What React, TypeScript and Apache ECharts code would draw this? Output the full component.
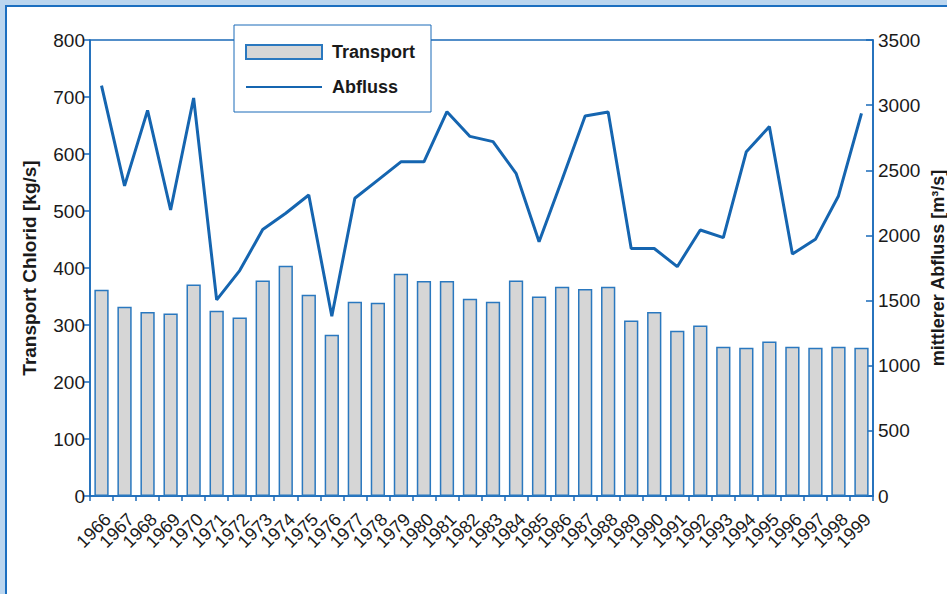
import React, { useEffect, useRef } from "react";
import * as echarts from "echarts";

const years = ["1966","1967","1968","1969","1970","1971","1972","1973","1974","1975","1976","1977","1978","1979","1980","1981","1982","1983","1984","1985","1986","1987","1988","1989","1990","1991","1992","1993","1994","1995","1996","1997","1998","1999"];
const transport = [362, 332, 323, 320, 371, 325, 313, 378, 404, 353, 283, 341, 339, 390, 377, 377, 346, 341, 378, 350, 367, 363, 367, 308, 323, 290, 299, 262, 260, 271, 262, 260, 262, 260];
const abfluss = [3150, 2380, 2960, 2195, 3055, 1505, 1730, 2045, 2170, 2310, 1380, 2285, 2425, 2565, 2565, 2950, 2760, 2720, 2477, 1952, 2430, 2917, 2947, 1900, 1900, 1760, 2042, 1983, 2643, 2835, 1857, 1970, 2303, 2937];

const BLUE = "#1a6ab8";
const TEXT = "#1a1a1a";
const FONT = "'Liberation Sans', Arial, sans-serif";

export default function App() {
  const ref = useRef<HTMLDivElement>(null);
  useEffect(() => {
    if (!ref.current) return;
    const chart = echarts.init(ref.current, undefined, { renderer: "svg" });
    chart.setOption({
      animation: false,
      textStyle: { fontFamily: FONT, color: TEXT },
      grid: {
        left: 90, right: 74, top: 40, bottom: 98,
        outerBoundsMode: "none",
        containLabel: false,
        show: true, borderColor: BLUE, borderWidth: 1.5, backgroundColor: "transparent",
      },
      legend: {
        left: 234,
        top: 25,
        orient: "vertical",
        backgroundColor: "#ffffff",
        borderColor: BLUE,
        borderWidth: 1,
        padding: [18, 16, 16, 11],
        itemWidth: 76,
        itemHeight: 14,
        itemGap: 17,
        textStyle: { fontFamily: FONT, fontWeight: "bold", fontSize: 18, color: TEXT, padding: [0, 0, 0, 5] },
        data: [
          { name: "Transport", icon: "rect" },
          { name: "Abfluss", itemStyle: { opacity: 0, color: "transparent", borderWidth: 0 } },
        ],
      },
      xAxis: {
        type: "category",
        data: years,
        boundaryGap: true,
        axisLine: { lineStyle: { color: BLUE, width: 1.5 } },
        axisTick: { show: true, alignWithLabel: false, length: 5, lineStyle: { color: BLUE, width: 1.5 } },
        axisLabel: { rotate: 45, interval: 0, fontSize: 18, color: TEXT, fontFamily: FONT, margin: 14, verticalAlign: "top" },
      },
      yAxis: [
        {
          type: "value",
          min: 0,
          max: 800,
          interval: 100,
          name: "Transport Chlorid [kg/s]",
          nameLocation: "middle",
          nameGap: 51,
          nameTextStyle: { fontFamily: FONT, fontWeight: "bold", fontSize: 19, color: TEXT },
          axisLine: { show: true, lineStyle: { color: BLUE, width: 1.5 } },
          axisTick: { show: true, length: 6, lineStyle: { color: BLUE, width: 1.5 } },
          axisLabel: { fontSize: 19, color: TEXT, fontFamily: FONT, margin: 5 },
          splitLine: { show: false },
        },
        {
          type: "value",
          min: 0,
          max: 3500,
          interval: 500,
          position: "right",
          name: "mittlerer Abfluss [m³/s]",
          nameLocation: "middle",
          nameGap: 56,
          nameMoveOverlap: false,
          nameTextStyle: { fontFamily: FONT, fontWeight: "bold", fontSize: 18, color: TEXT },
          axisLine: { show: true, lineStyle: { color: BLUE, width: 1.5 } },
          axisTick: { show: true, inside: true, length: 7, lineStyle: { color: BLUE, width: 1.5 } },
          axisLabel: { fontSize: 19, color: TEXT, fontFamily: FONT, margin: 5, formatter: (v: number) => String(v) },
          splitLine: { show: false },
        },
      ],
      series: [
        {
          name: "Transport",
          type: "bar",
          yAxisIndex: 0,
          data: transport,
          barCategoryGap: "38%",
          itemStyle: { color: "#d6d6d6", borderColor: "#2a78bf", borderWidth: 1.5 },
        },
        {
          name: "Abfluss",
          type: "line",
          yAxisIndex: 1,
          data: abfluss,
          symbol: "none",
          lineStyle: { color: "#1565b0", width: 3 },
          itemStyle: { color: "#1565b0" },
        },
      ],
    });
    return () => chart.dispose();
  }, []);

  return (
    <div style={{ position: "fixed", left: 0, top: 0, width: 947, height: 594, background: "#bbd6ef", overflow: "hidden" }}>
      <div style={{ position: "absolute", left: 5, top: 5, right: -10, bottom: -10, background: "#ffffff", borderLeft: "2px solid #1c6fc0", borderTop: "2px solid #1c6fc0" }} />
      <div ref={ref} style={{ position: "absolute", left: 0, top: 0, width: 947, height: 594 }} />
    </div>
  );
}
